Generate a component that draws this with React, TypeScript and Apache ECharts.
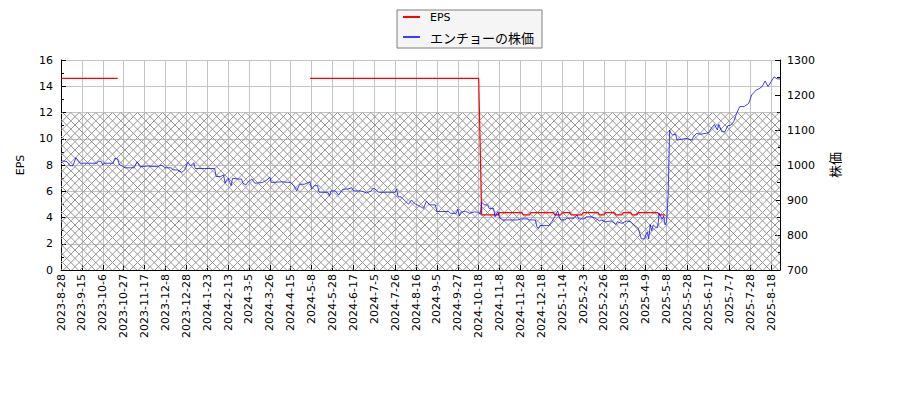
import React, { useEffect, useRef } from "react";
import * as echarts from "echarts";

// ---- data ----
// x tick labels, one per 14 trading days (trading-day index = position * 14)
const tickLabels: string[] = [
  "2023-8-28", "2023-9-15", "2023-10-6", "2023-10-27", "2023-11-17", "2023-12-8",
  "2023-12-28", "2024-1-23", "2024-2-13", "2024-3-5", "2024-3-26", "2024-4-15",
  "2024-5-8", "2024-5-28", "2024-6-17", "2024-7-5", "2024-7-26", "2024-8-16",
  "2024-9-5", "2024-9-27", "2024-10-18", "2024-11-8", "2024-11-28", "2024-12-18",
  "2025-1-14", "2025-2-3", "2025-2-26", "2025-3-18", "2025-4-9", "2025-5-8",
  "2025-5-28", "2025-6-17", "2025-7-7", "2025-7-28", "2025-8-18",
];
const TICK_STEP = 14;

// stock price: [trading-day index, price]
const pricePoints: [number, number][] = [
  [0, 1012], [4, 1010], [6, 998], [8, 998], [10, 1021], [13, 1005], [18, 1005], [24, 1005],
  [25, 1011], [27, 1010], [28, 1000], [29, 1005], [35, 1005], [36, 1019], [38, 1017], [39, 1002],
  [43, 992], [49, 992], [51, 1009], [53, 995], [58, 997], [65, 995], [67, 1000], [70, 992],
  [74, 992], [75, 986], [78, 986], [81, 979], [83, 986], [85, 1008], [87, 998], [89, 1006],
  [90, 990], [96, 990], [103, 990], [104, 967], [107, 967], [109, 972], [110, 948], [111, 957],
  [112, 962], [114, 941], [115, 962], [119, 960], [121, 960], [122, 948], [124, 943], [125, 950],
  [128, 960], [130, 948], [135, 950], [138, 957], [140, 965], [141, 950], [148, 952], [154, 950],
  [156, 941], [158, 926], [160, 945], [163, 945], [167, 952], [168, 931], [170, 941], [172, 941],
  [173, 922], [179, 922], [180, 912], [181, 926], [184, 926], [186, 914], [189, 931], [192, 931],
  [195, 935], [196, 926], [201, 926], [205, 920], [208, 926], [209, 933], [210, 933], [213, 922],
  [219, 922], [224, 922], [225, 931], [226, 909], [228, 909], [230, 900], [233, 888], [235, 900],
  [237, 890], [241, 881], [243, 876], [245, 897], [247, 886], [251, 886], [252, 867], [260, 867],
  [261, 862], [265, 862], [266, 874], [267, 855], [268, 865], [271, 868], [274, 862], [277, 866],
  [280, 865], [281, 859], [282, 893], [284, 886], [286, 886], [287, 876], [290, 876], [291, 852],
  [293, 867], [294, 849], [296, 843], [306, 843], [308, 846], [313, 846], [314, 843], [318, 843],
  [319, 824], [320, 819], [321, 827], [327, 827], [329, 838], [331, 852], [333, 869], [334, 852],
  [335, 843], [338, 843], [339, 848], [344, 848], [346, 857], [347, 846], [351, 846], [352, 852],
  [356, 852], [359, 846], [361, 840], [362, 843], [365, 838], [369, 840], [372, 830], [373, 838],
  [376, 833], [379, 840], [382, 838], [384, 829], [387, 819], [389, 789], [391, 789], [393, 809],
  [394, 789], [395, 829], [396, 812], [397, 829], [399, 821], [400, 821], [401, 862], [403, 845],
  [404, 855], [405, 829], [406, 838], [407, 914], [408, 1100], [409, 1090], [410, 1086], [412, 1088],
  [413, 1071], [419, 1076], [423, 1071], [424, 1081], [426, 1090], [429, 1088], [434, 1092], [436, 1105],
  [438, 1116], [440, 1100], [441, 1116], [443, 1095], [445, 1095], [447, 1112], [449, 1114], [451, 1124],
  [453, 1148], [455, 1167], [458, 1167], [461, 1176], [463, 1200], [466, 1214], [468, 1218], [470, 1224],
  [472, 1240], [474, 1224], [476, 1238], [478, 1252], [480, 1246], [482, 1246],
];

// EPS: [trading-day index, EPS] ("-" = no value)
const epsPoints: [number, number | string][] = [
  [0, 14.6], [38, 14.6], [39, "-"], [167, 14.6], [280, 14.6], [281, 9.5],
  [282, 4.2], [293, 4.2], [294, 4.37], [309, 4.37], [310, 4.2], [314, 4.2],
  [315, 4.37], [330, 4.37], [331, 4.2], [335, 4.2], [336, 4.37], [341, 4.37],
  [342, 4.2], [349, 4.2], [350, 4.37], [360, 4.37], [361, 4.2], [364, 4.2],
  [365, 4.37], [371, 4.37], [372, 4.2], [376, 4.2], [377, 4.37], [382, 4.37],
  [383, 4.2], [386, 4.2], [387, 4.37], [400, 4.37], [401, 4.2], [405, 4.2],
];

// hatched band on the EPS axis
const hatchBand: [number, number] = [0, 12];

const SERIES_EPS = "EPS";
const SERIES_PRICE = "エンチョーの株価";

const LAST_INDEX = pricePoints[pricePoints.length - 1][0];
const FONT = "'DejaVu Sans', 'Noto Sans CJK JP', sans-serif";
const CJK_FONT = "'Noto Sans CJK JP', 'DejaVu Sans', sans-serif";

function makeHatch(): HTMLCanvasElement {
  const s = 25;
  const c = document.createElement("canvas");
  c.width = s;
  c.height = s;
  const ctx = c.getContext("2d")!;
  ctx.strokeStyle = "#969696";
  ctx.lineWidth = 1;
  const step = s / 3;
  ctx.beginPath();
  for (let k = -4; k <= 4; k++) {
    const o = k * step;
    ctx.moveTo(o, 0);
    ctx.lineTo(o + s, s);
    ctx.moveTo(o, s);
    ctx.lineTo(o + s, 0);
  }
  ctx.stroke();
  return c;
}

export default function App() {
  const ref = useRef<HTMLDivElement>(null);

  useEffect(() => {
    if (!ref.current) return;
    const chart = echarts.init(ref.current, undefined, { renderer: "svg" });
    const hatch = makeHatch();

    const axisBlack = { lineStyle: { color: "#000", width: 1 } };
    const labelStyle = { fontSize: 11, color: "#000", fontFamily: FONT };

    const option: any = {
      animation: false,
      textStyle: { fontFamily: FONT },
      grid: { left: 61, right: 120, top: 60, bottom: 130, containLabel: false },
      legend: {
        left: 397,
        top: 10,
        orient: "vertical",
        itemWidth: 17,
        itemHeight: 14,
        itemGap: 6,
        padding: [0, 8, 4, 5],
        backgroundColor: "#f5f5f5",
        borderColor: "#7f7f7f",
        borderWidth: 1,
        borderRadius: 0,
        lineStyle: { width: 2 },
        itemStyle: { opacity: 0 },
        formatter: (name: string) => (name === SERIES_EPS ? `{a|${name}}` : `{b|${name}}`),
        textStyle: {
          color: "#000",
          fontFamily: FONT,
          lineHeight: 14,
          padding: [0, 0, 0, 5],
          rich: {
            a: { fontSize: 11, fontFamily: FONT, color: "#000", lineHeight: 14 },
            b: { fontSize: 13, fontFamily: CJK_FONT, color: "#000", lineHeight: 14 },
          },
        },
        data: [SERIES_EPS, SERIES_PRICE],
      },
      xAxis: {
        type: "value",
        min: 0,
        max: LAST_INDEX,
        interval: TICK_STEP,
        axisLine: axisBlack,
        axisTick: { show: true, inside: true, length: 5, lineStyle: { color: "#000" } },
        axisLabel: {
          ...labelStyle,
          rotate: 90,
          margin: 4,
          showMinLabel: true,
          showMaxLabel: true,
          formatter: (v: number) => {
            const k = v / TICK_STEP;
            return Number.isInteger(k) && tickLabels[k] ? tickLabels[k] : "";
          },
        },
        splitLine: { show: true, lineStyle: { color: "#c4c4c4", width: 1 } },
      },
      yAxis: [
        {
          type: "value",
          position: "left",
          min: 0,
          max: 16,
          interval: 2,
          name: "EPS",
          nameLocation: "middle",
          nameRotate: 90,
          nameGap: 35,
          nameTextStyle: { fontSize: 11, color: "#000", fontFamily: FONT },
          axisLine: { show: true, ...axisBlack },
          axisTick: { show: true, inside: true, length: 5, lineStyle: { color: "#000" } },
          minorTick: { show: true, splitNumber: 2, length: 3, lineStyle: { color: "#000" } },
          axisLabel: { ...labelStyle, margin: 8, formatter: (v: number) => String(v) },
          splitLine: { show: true, lineStyle: { color: "#c4c4c4", width: 1 } },
        },
        {
          type: "value",
          position: "right",
          min: 700,
          max: 1300,
          interval: 100,
          name: "株価",
          nameLocation: "middle",
          nameRotate: 90,
          nameGap: 48,
          nameTextStyle: { fontSize: 13, color: "#000", fontFamily: CJK_FONT },
          axisLine: { show: true, ...axisBlack },
          axisTick: { show: true, inside: true, length: 5, lineStyle: { color: "#000" } },
          minorTick: { show: true, splitNumber: 2, length: 3, lineStyle: { color: "#000" } },
          axisLabel: { ...labelStyle, margin: 7, formatter: (v: number) => String(v) },
          splitLine: { show: false },
        },
      ],
      series: [
        {
          name: SERIES_EPS,
          type: "line",
          xAxisIndex: 0,
          yAxisIndex: 0,
          data: epsPoints,
          symbol: "none",
          showSymbol: false,
          connectNulls: false,
          color: "#ff0000",
          lineStyle: { color: "#ff0000", width: 1.2 },
          z: 3,
          markArea: {
            silent: true,
            z: 1,
            itemStyle: {
              color: { image: hatch, repeat: "repeat", imageWidth: 25, imageHeight: 25 },
              borderWidth: 0,
            },
            data: [[{ xAxis: 0, yAxis: hatchBand[0] }, { xAxis: LAST_INDEX, yAxis: hatchBand[1] }]],
          },
        },
        {
          name: SERIES_PRICE,
          type: "line",
          xAxisIndex: 0,
          yAxisIndex: 1,
          data: pricePoints,
          symbol: "none",
          showSymbol: false,
          color: "rgba(0,0,255,0.6)",
          lineStyle: { color: "rgba(0,0,255,0.75)", width: 1 },
          z: 4,
        },
      ],
    };

    chart.setOption(option);
    return () => chart.dispose();
  }, []);

  return (
    <div
      ref={ref}
      style={{ position: "fixed", left: 0, top: 0, width: 900, height: 400, background: "#fff" }}
    />
  );
}
